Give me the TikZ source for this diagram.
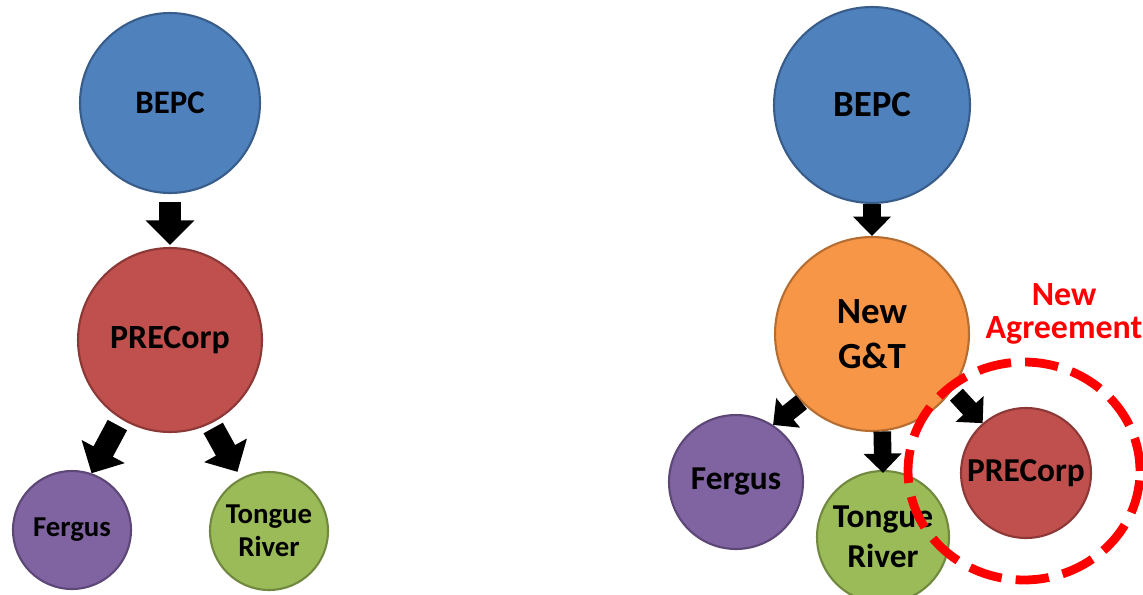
\documentclass[tikz,border=0pt]{standalone}
\usepackage{fontspec}
\setmainfont{Carlito}
\usetikzlibrary{arrows.meta}
\definecolor{bepcblue}{HTML}{4F81BD}
\definecolor{bepcline}{HTML}{385D8A}
\definecolor{precred}{HTML}{C0504D}
\definecolor{precline}{HTML}{8C3836}
\definecolor{fergpurple}{HTML}{8064A2}
\definecolor{fergline}{HTML}{5C4776}
\definecolor{tonggreen}{HTML}{9BBB59}
\definecolor{tongline}{HTML}{71893F}
\definecolor{gtorange}{HTML}{F79646}
\definecolor{gtline}{HTML}{B66D31}
\definecolor{agreered}{HTML}{FF0000}
\begin{document}
\begin{tikzpicture}
	[x=0.02cm, y=-0.02cm,
	 org/.style={circle, draw, line width=1.2pt, inner sep=0pt, align=center, text=black},
	 bigarrow/.style={line width=12.5pt, -{Triangle[width=27pt,length=14pt]}},
	 smallarrow/.style={line width=10pt, -{Triangle[width=21pt,length=11pt]}},
	 agreement/.style={draw=agreered, line width=5pt, dash pattern=on 19pt off 8pt}]
	\useasboundingbox (0,0) rectangle (1143,595);
	% status quo
	\node[org, fill=bepcblue, draw=bepcline, minimum size=3.6cm, font=\fontsize{18.7}{22}\selectfont\bfseries] (bepcL) at (170,103) {BEPC};
	\node[org, fill=precred, draw=precline, minimum size=3.68cm, font=\fontsize{19.3}{23}\selectfont\bfseries] (precorpL) at (170,340) {PRECorp};
	\node[org, fill=fergpurple, draw=fergline, minimum size=2.36cm, font=\fontsize{16.4}{19}\selectfont\bfseries] (fergusL) at (72,530) {Fergus};
	\node[org, fill=tonggreen, draw=tongline, minimum size=2.36cm, font=\fontsize{16.4}{18.7}\selectfont\bfseries] (tongueL) at (269,531) {Tongue\\River};
	\draw[bigarrow, shorten <=0.16cm, shorten >=0.04cm] (bepcL) -- (precorpL);
	\draw[bigarrow, shorten <=0.14cm] (precorpL.238) -- (fergusL.71);
	\draw[bigarrow, shorten <=0.1cm, shorten >=0.14cm] (precorpL.296) -- (tongueL.118);
	% proposed
	\node[org, fill=bepcblue, draw=bepcline, minimum size=3.92cm, font=\fontsize{21}{25}\selectfont\bfseries] (bepcR) at (872,105) {BEPC};
	\node[org, fill=gtorange, draw=gtline, minimum size=3.88cm, font=\fontsize{21}{25.5}\selectfont\bfseries] (gnt) at (872,334) {New\\G\&T};
	\node[org, fill=fergpurple, draw=fergline, minimum size=2.68cm, font=\fontsize{19}{23}\selectfont\bfseries] (fergusR) at (736,482) {Fergus};
	\node[org, fill=tonggreen, draw=tongline, minimum size=2.64cm, font=\fontsize{19}{22.7}\selectfont\bfseries] (tongueR) at (883,537) {Tongue\\River};
	\node[org, fill=precred, draw=precline, minimum size=2.6cm, font=\fontsize{19}{23}\selectfont\bfseries] (precorpR) at (1026,473) {PRECorp};
	\draw[smallarrow] (bepcR) -- (gnt);
	\draw[smallarrow] (gnt.224) -- (fergusR.57);
	\draw[smallarrow, shorten >=-0.06cm] (gnt.-84) -- (tongueR.north);
	\draw[smallarrow, shorten <=0.12cm] (gnt.-35) -- (precorpR.131);
	\draw[agreement] (1024,471) ellipse [x radius=2.32cm, y radius=2.18cm];
	\node[text=agreered, align=center, font=\fontsize{19.3}{18.7}\selectfont\bfseries] (newagree) at (1064,314) {New\\Agreement};
\end{tikzpicture}
\end{document}
